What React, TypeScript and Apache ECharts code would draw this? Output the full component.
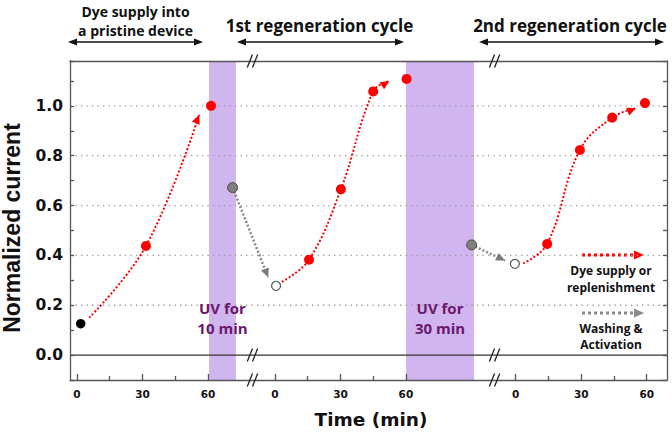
import React, { useEffect, useRef } from 'react';
import * as echarts from 'echarts';

// ---- axis geometry (broken time axis: three segments laid on one value axis) ----
const SEG_OFFSETS = [0, 90.7, 201];
const BREAKS = [80.4, 191.3];
const X_MIN = -3.2;
const X_MAX = 270.3;
const Y_MIN = -0.1;
const Y_MAX = 1.18;

const majorTickTimes = [0, 30, 60];
const minorTickTimes = [15, 45];
const gridValues = [0.2, 0.4, 0.6, 0.8, 1.0];

// ---- data (time in min within each segment, normalized current) ----
const pristineStart = [1.7, 0.126];
const pristineTimes = [31.6, 61.4];
const pristineValues = [0.438, 1.0];

const wash1Point = [71.3, 0.672]; // segment 1 time
const cycle1OpenPoint = [0.5, 0.278];
const cycle1Times = [15.6, 30.2, 45.0, 60.3];
const cycle1Values = [0.383, 0.665, 1.058, 1.108];

const wash2Point = [90.1, 0.442]; // segment 2 time
const cycle2OpenPoint = [-0.4, 0.366];
const cycle2Times = [14.4, 29.4, 44.2, 59.2];
const cycle2Values = [0.446, 0.823, 0.953, 1.011];

// dotted guide curves [time, value]
const supplyCurve1 = [[5.6, 0.15], [31.6, 0.438], [56.0, 0.964]];
const supplyCurve2 = [[3.2, 0.294], [15.6, 0.383], [30.2, 0.665], [45.0, 1.058], [52.4, 1.1]];
const supplyCurve3 = [[3.4, 0.368], [14.4, 0.446], [29.4, 0.823], [44.2, 0.953], [55.1, 0.99]];
const washArrow1 = { fromSeg: 0, from: [71.3, 0.672], toSeg: 1, to: [-3.1, 0.312] };
const washArrow2 = { fromSeg: 1, from: [90.1, 0.442], toSeg: 2, to: [-4.9, 0.379] };

const uvBands = [
  { seg: 0, start: 60.5, end: 72.8, label: 'UV for\n10 min' },
  { seg: 1, start: 60, end: 91.2, label: 'UV for\n30 min' },
];
const uvLabelValue = 0.149;

const RED = '#ff0000';
const GRAY = '#808080';
const BAND = '#d0b5ef';
const UV_TEXT = '#6b176d';
const AXIS_COLOR = '#555';
const NUM_FONT = '"DejaVu Sans", sans-serif';
const NOTE_FONT = '"Open Sans", "Noto Sans", sans-serif';

const toX = (seg: number, t: number) => SEG_OFFSETS[seg] + t;
const segOf = (x: number) => (x < BREAKS[0] ? 0 : x < BREAKS[1] ? 1 : 2);

function buildOption() {
  const majorTicks: number[] = [];
  const minorTicks: number[] = [];
  SEG_OFFSETS.forEach((_, s) => {
    majorTickTimes.forEach((t) => majorTicks.push(toX(s, t)));
    minorTickTimes.forEach((t) => minorTicks.push(toX(s, t)));
  });

  const curveLine = (seg: number, pts: number[][], color: string, width: number) => ({
    type: 'line',
    z: 3,
    smooth: 0.4,
    symbol: 'none',
    silent: true,
    data: pts.map((p) => [toX(seg, p[0]), p[1]]),
    lineStyle: { color, width, type: [2, 2] },
  });

  const arrowheads = [
    { tip: [toX(0, supplyCurve1[2][0]), supplyCurve1[2][1]], from: [toX(0, supplyCurve1[1][0]), supplyCurve1[1][1]], c: 0 },
    { tip: [toX(1, supplyCurve2[4][0]), supplyCurve2[4][1]], from: [toX(1, supplyCurve2[3][0]), supplyCurve2[3][1]], c: 0 },
    { tip: [toX(2, supplyCurve3[4][0]), supplyCurve3[4][1]], from: [toX(2, supplyCurve3[3][0]), supplyCurve3[3][1]], c: 0 },
    { tip: [toX(washArrow1.toSeg, washArrow1.to[0]), washArrow1.to[1]], from: [toX(washArrow1.fromSeg, washArrow1.from[0]), washArrow1.from[1]], c: 1 },
    { tip: [toX(washArrow2.toSeg, washArrow2.to[0]), washArrow2.to[1]], from: [toX(washArrow2.fromSeg, washArrow2.from[0]), washArrow2.from[1]], c: 1 },
  ];
  const arrowColors = [RED, '#7a7a7a'];

  const redPoints = [
    ...pristineTimes.map((t, i) => [toX(0, t), pristineValues[i]]),
    ...cycle1Times.map((t, i) => [toX(1, t), cycle1Values[i]]),
    ...cycle2Times.map((t, i) => [toX(2, t), cycle2Values[i]]),
  ];

  const topArrow = (x1: number, x2: number, y: number) => [
    { type: 'line', shape: { x1: x1 + 4, y1: y, x2: x2 - 4, y2: y }, style: { stroke: '#111', lineWidth: 1.6 } },
    { type: 'polygon', shape: { points: [[x1, y], [x1 + 9, y - 3.5], [x1 + 9, y + 3.5]] }, style: { fill: '#111' } },
    { type: 'polygon', shape: { points: [[x2, y], [x2 - 9, y - 3.5], [x2 - 9, y + 3.5]] }, style: { fill: '#111' } },
  ];
  const noteText = (text: string, x: number, y: number, size: number, lh: number, color = '#111') => ({
    type: 'text',
    x,
    y,
    style: {
      text,
      fill: color,
      fontFamily: NOTE_FONT,
      fontWeight: 'bold',
      fontSize: size,
      lineHeight: lh,
      align: 'center',
      verticalAlign: 'middle',
      textAlign: 'center',
      textVerticalAlign: 'middle',
    },
  });

  return {
    animation: false,
    grid: { left: 70, right: 5, top: 61, bottom: 54 },
    xAxis: [
      {
        type: 'value',
        min: X_MIN,
        max: X_MAX,
        position: 'bottom',
        z: 10,
        axisLine: { show: true, onZero: false, lineStyle: { color: AXIS_COLOR, width: 1.3 } },
        axisTick: { show: true, inside: true, length: 6, customValues: majorTicks, lineStyle: { color: AXIS_COLOR, width: 1.3 } },
        axisLabel: {
          show: true,
          customValues: majorTicks,
          margin: 8,
          color: '#111',
          fontFamily: NUM_FONT,
          fontWeight: 'bold',
          fontSize: 10.5,
          formatter: (v: number) => String(Math.round(v - SEG_OFFSETS[segOf(v)])),
        },
        splitLine: { show: false },
      },
      {
        type: 'value',
        min: X_MIN,
        max: X_MAX,
        position: 'bottom',
        z: 10,
        axisLine: { show: false, onZero: false },
        axisTick: { show: true, inside: true, length: 4, customValues: minorTicks, lineStyle: { color: AXIS_COLOR, width: 1.3 } },
        axisLabel: { show: false },
        splitLine: { show: false },
      },
      {
        type: 'value',
        min: X_MIN,
        max: X_MAX,
        position: 'top',
        z: 10,
        axisLine: { show: true, onZero: false, lineStyle: { color: AXIS_COLOR, width: 1.3 } },
        axisTick: { show: false },
        axisLabel: { show: false },
        splitLine: { show: false },
      },
    ],
    yAxis: [
      {
        type: 'value',
        min: Y_MIN,
        max: Y_MAX,
        interval: 0.1,
        position: 'left',
        z: 10,
        axisLine: { show: true, onZero: false, lineStyle: { color: AXIS_COLOR, width: 1.3 } },
        axisTick: { show: true, inside: true, length: 4, lineStyle: { color: AXIS_COLOR, width: 1.3 } },
        axisLabel: {
          margin: 7,
          color: '#111',
          fontFamily: NUM_FONT,
          fontWeight: 'bold',
          fontSize: 15.5,
          formatter: (v: number) => {
            const k = v * 5;
            return v > -0.01 && v < 1.01 && Math.abs(k - Math.round(k)) < 1e-6 ? v.toFixed(1) : '';
          },
        },
        splitLine: { show: false },
      },
      {
        type: 'value',
        min: Y_MIN,
        max: Y_MAX,
        interval: 0.1,
        position: 'right',
        z: 10,
        axisLine: { show: true, onZero: false, lineStyle: { color: AXIS_COLOR, width: 1.3 } },
        axisTick: { show: true, inside: true, length: 4, lineStyle: { color: AXIS_COLOR, width: 1.3 } },
        axisLabel: { show: false },
        splitLine: { show: false },
      },
    ],
    graphic: [
      noteText('Dye supply into\na pristine device', 135.5, 20.5, 14, 19),
      ...topArrow(68, 203, 42),
      noteText('1st regeneration cycle', 319.5, 25.5, 17, 20),
      ...topArrow(237, 404, 42),
      noteText('2nd regeneration cycle', 570, 25.5, 17, 20),
      ...topArrow(479, 664, 42),
      { type: 'line', shape: { x1: 582, y1: 255, x2: 636, y2: 255 }, style: { stroke: RED, lineWidth: 3, lineDash: [3, 3] } },
      { type: 'polygon', shape: { points: [[644, 255], [634, 250.5], [634, 259.5]] }, style: { fill: RED } },
      noteText('Dye supply or\nreplenishment', 611, 278.5, 12, 17),
      { type: 'line', shape: { x1: 582, y1: 313, x2: 636, y2: 313 }, style: { stroke: '#8a8a8a', lineWidth: 3, lineDash: [3, 3] } },
      { type: 'polygon', shape: { points: [[644, 313], [634, 308.5], [634, 317.5]] }, style: { fill: '#8a8a8a' } },
      noteText('Washing &\nActivation', 611, 336, 12, 16),
      {
        type: 'text',
        x: 12,
        y: 228,
        rotation: Math.PI / 2,
        style: {
          text: 'Normalized current',
          fill: '#111',
          fontFamily: '"Liberation Sans", Arial, sans-serif',
          fontWeight: 'bold',
          fontSize: 23,
          align: 'center',
          verticalAlign: 'middle',
          textAlign: 'center',
          textVerticalAlign: 'middle',
        },
      },
      {
        type: 'text',
        x: 371,
        y: 419,
        style: {
          text: 'Time (min)',
          fill: '#111',
          fontFamily: NUM_FONT,
          fontWeight: 'bold',
          fontSize: 18.5,
          align: 'center',
          verticalAlign: 'middle',
          textAlign: 'center',
          textVerticalAlign: 'middle',
        },
      },
    ],
    series: [
      {
        type: 'custom',
        name: 'uvBands',
        z: 0,
        silent: true,
        data: uvBands.map((b) => [toX(b.seg, b.start), toX(b.seg, b.end)]),
        encode: { x: [0, 1] },
        renderItem: (params: any, api: any) => {
          const cs = params.coordSys;
          const x1 = api.coord([api.value(0), 0])[0];
          const x2 = api.coord([api.value(1), 0])[0];
          return { type: 'rect', shape: { x: x1, y: cs.y, width: x2 - x1, height: cs.height }, style: { fill: BAND } };
        },
      },
      {
        type: 'custom',
        name: 'gridLines',
        z: 1,
        silent: true,
        data: [...gridValues.map((v) => [X_MIN, v, 0]), [X_MIN, 0, 1]],
        encode: { x: 0, y: 1 },
        renderItem: (params: any, api: any) => {
          const cs = params.coordSys;
          const y = api.coord([api.value(0), api.value(1)])[1];
          const zero = api.value(2) === 1;
          return {
            type: 'line',
            shape: { x1: cs.x, y1: y, x2: cs.x + cs.width, y2: y },
            style: zero
              ? { stroke: '#333', lineWidth: 1.3 }
              : { stroke: '#9a9a9a', lineWidth: 1.3, lineDash: [1.3, 4.2] },
          };
        },
      },
      {
        type: 'custom',
        name: 'uvLabels',
        z: 2,
        silent: true,
        data: uvBands.map((b, i) => [(toX(b.seg, b.start) + toX(b.seg, b.end)) / 2, uvLabelValue, i]),
        encode: { x: 0, y: 1 },
        renderItem: (params: any, api: any) => {
          const p = api.coord([api.value(0), api.value(1)]);
          return {
            type: 'text',
            x: p[0],
            y: p[1],
            style: {
              text: uvBands[api.value(2)].label,
              fill: UV_TEXT,
              fontFamily: NOTE_FONT,
              fontWeight: 'bold',
              fontSize: 15,
              lineHeight: 20,
              align: 'center',
              verticalAlign: 'middle',
              textAlign: 'center',
              textVerticalAlign: 'middle',
            },
          };
        },
      },
      curveLine(0, supplyCurve1, RED, 2),
      curveLine(1, supplyCurve2, RED, 2),
      curveLine(2, supplyCurve3, RED, 2),
      {
        type: 'line',
        z: 3,
        symbol: 'none',
        silent: true,
        data: [[toX(washArrow1.fromSeg, washArrow1.from[0]), washArrow1.from[1]], [toX(washArrow1.toSeg, washArrow1.to[0]), washArrow1.to[1]]],
        lineStyle: { color: '#888', width: 2.5, type: [2, 2] },
      },
      {
        type: 'line',
        z: 3,
        symbol: 'none',
        silent: true,
        data: [[toX(washArrow2.fromSeg, washArrow2.from[0]), washArrow2.from[1]], [toX(washArrow2.toSeg, washArrow2.to[0]), washArrow2.to[1]]],
        lineStyle: { color: '#888', width: 2.5, type: [2, 2] },
      },
      {
        type: 'custom',
        name: 'arrowheads',
        z: 4,
        silent: true,
        data: arrowheads.map((a) => [a.tip[0], a.tip[1], a.from[0], a.from[1], a.c]),
        encode: { x: 0, y: 1 },
        renderItem: (params: any, api: any) => {
          const tip = api.coord([api.value(0), api.value(1)]);
          const from = api.coord([api.value(2), api.value(3)]);
          const dx = tip[0] - from[0];
          const dy = tip[1] - from[1];
          const len = Math.hypot(dx, dy) || 1;
          const ux = dx / len;
          const uy = dy / len;
          const L = 9;
          const W = 4.2;
          return {
            type: 'polygon',
            shape: {
              points: [
                [tip[0], tip[1]],
                [tip[0] - L * ux - W * uy, tip[1] - L * uy + W * ux],
                [tip[0] - L * ux + W * uy, tip[1] - L * uy - W * ux],
              ],
            },
            style: { fill: arrowColors[api.value(4)] },
          };
        },
      },
      {
        type: 'scatter',
        z: 5,
        silent: true,
        symbolSize: 9.5,
        data: [[toX(0, pristineStart[0]), pristineStart[1]]],
        itemStyle: { color: '#000', opacity: 1 },
      },
      {
        type: 'scatter',
        z: 5,
        silent: true,
        symbolSize: 10,
        data: redPoints,
        itemStyle: { color: RED, opacity: 1 },
      },
      {
        type: 'scatter',
        z: 5,
        silent: true,
        symbolSize: 10,
        data: [[toX(0, wash1Point[0]), wash1Point[1]], [toX(1, wash2Point[0]), wash2Point[1]]],
        itemStyle: { color: GRAY, borderColor: '#4a4a4a', borderWidth: 1, opacity: 1 },
      },
      {
        type: 'scatter',
        z: 5,
        silent: true,
        symbolSize: 9,
        data: [[toX(1, cycle1OpenPoint[0]), cycle1OpenPoint[1]], [toX(2, cycle2OpenPoint[0]), cycle2OpenPoint[1]]],
        itemStyle: { color: '#fff', borderColor: '#555', borderWidth: 1.2, opacity: 1 },
      },
      {
        type: 'custom',
        name: 'breaks',
        z: 12,
        silent: true,
        data: BREAKS.map((b) => [b, 0]),
        encode: { x: 0, y: 1 },
        renderItem: (params: any, api: any) => {
          const cs = params.coordSys;
          const x = api.coord([api.value(0), 0])[0];
          const ys = [cs.y, api.coord([api.value(0), 0])[1], cs.y + cs.height];
          const children: any[] = [];
          ys.forEach((y) => {
            [-2.6, 2.6].forEach((d) => {
              children.push({
                type: 'line',
                shape: { x1: x + d - 2.6, y1: y + 6.5, x2: x + d + 2.6, y2: y - 6.5 },
                style: { stroke: '#222', lineWidth: 1.3 },
              });
            });
          });
          return { type: 'group', children };
        },
      },
    ],
  };
}

export default function App() {
  const ref = useRef<HTMLDivElement>(null);
  useEffect(() => {
    document.body.style.margin = '0';
    if (!ref.current) return;
    const chart = echarts.init(ref.current, undefined, { renderer: 'svg' });
    chart.setOption(buildOption() as any);
    return () => chart.dispose();
  }, []);
  return <div ref={ref} style={{ width: 672, height: 434, background: '#fff' }} />;
}
